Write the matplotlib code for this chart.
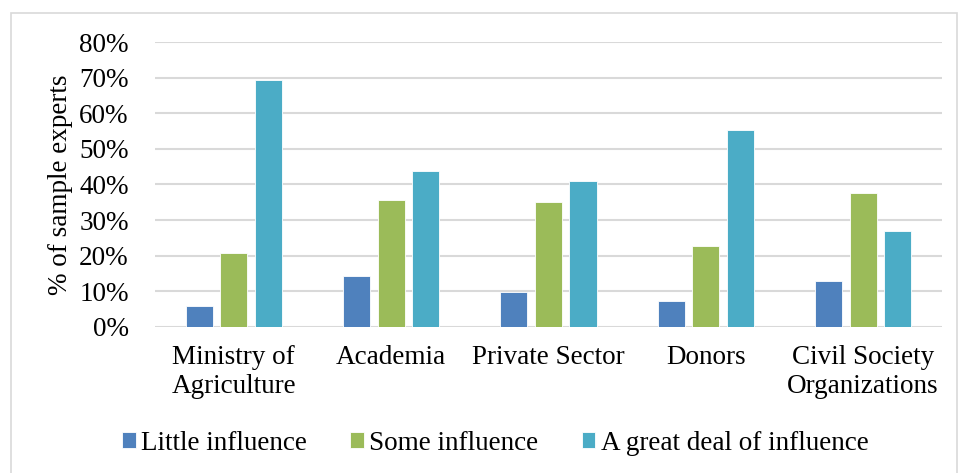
import numpy as np
import matplotlib
matplotlib.use("Agg")
import matplotlib.pyplot as plt
from matplotlib.patches import Rectangle
from matplotlib.ticker import PercentFormatter

categories = ["Ministry of\nAgriculture", "Academia", "Private Sector",
              "Donors", "Civil Society\nOrganizations"]
series_names = ["Little influence", "Some influence", "A great deal of influence"]
little = [5.8, 14.4, 9.9, 7.4, 12.8]
some = [20.7, 35.6, 35.2, 22.8, 37.7]
great = [69.3, 43.9, 40.9, 55.2, 26.9]
colors = ["#4F81BD", "#9BBB59", "#4BACC6"]

plt.rcParams["font.family"] = ["Liberation Serif", "DejaVu Serif"]
plt.rcParams["font.size"] = 19.5

fig = plt.figure(figsize=(9.6, 4.73), dpi=100)
ax = fig.add_axes([0.1615, 0.3087, 0.8195, 0.6025])

# light frame around the whole chart, like the excel chart border
fig.patches.append(Rectangle((11 / 960, -0.01), 946 / 960, 1 - 13 / 473 + 0.01,
                             transform=fig.transFigure, fill=False,
                             edgecolor="#D9D9D9", linewidth=1.2))

x = np.arange(len(categories))
pitch = 0.22
bar_w = 0.172
for i, (vals, name) in enumerate(zip([little, some, great], series_names)):
    ax.bar(x + (i - 1) * pitch, vals, bar_w, color=colors[i], label=name,
           edgecolor="white", linewidth=0.6, zorder=3)

ax.set_ylim(0, 80)
ax.set_xlim(-0.5, len(categories) - 0.5)
ax.set_yticks(np.arange(0, 81, 10))
ax.yaxis.set_major_formatter(PercentFormatter(100, decimals=0))
ax.grid(axis="y", color="#D9D9D9", linewidth=1.5, zorder=0)
ax.set_axisbelow(True)
for s in ax.spines.values():
    s.set_visible(False)
ax.tick_params(axis="y", length=0, pad=19)
ax.tick_params(axis="x", length=0, pad=13)
ax.set_xticks(x)
ax.set_xticklabels(categories, linespacing=1.2)
ax.set_ylabel("% of sample experts")
ax.yaxis.set_label_coords(-0.104, 0.5)

fig.legend(loc="center", bbox_to_anchor=(0.516, 0.0634), ncol=3, frameon=False,
           handlelength=0.5, handleheight=0.5, handletextpad=0.2,
           columnspacing=1.6, borderaxespad=0)

fig.savefig("out.png", dpi=100)
